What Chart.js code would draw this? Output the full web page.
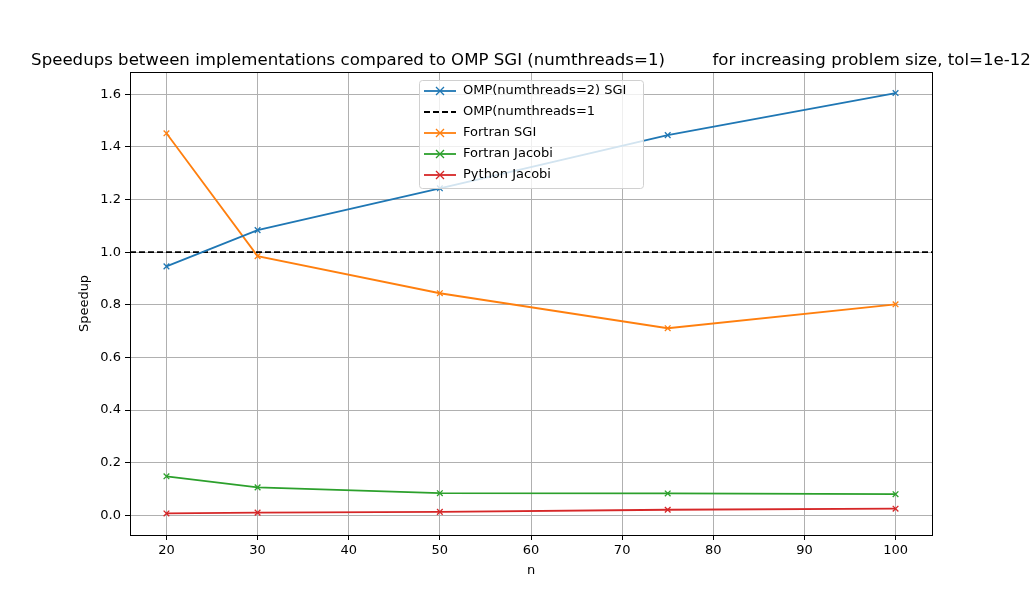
<!DOCTYPE html>
<html>
<head>
<meta charset="utf-8">
<script src="https://cdn.jsdelivr.net/npm/chart.js@4"></script>
<style>
  html, body { margin: 0; padding: 0; background: #fff; }
  #wrap { width: 1036px; height: 600px; }
</style>
</head>
<body>
<div id="wrap"><canvas id="c" width="1036" height="600"></canvas></div>
<script>
// problem sizes
const sizes = [20, 30, 50, 75, 100];

// speedups
const ompTwo = [0.946, 1.084, 1.243, 1.445, 1.605];
const fortranSgi = [1.452, 0.985, 0.844, 0.711, 0.802];
const fortranJacobi = [0.148, 0.106, 0.084, 0.083, 0.080];
const pythonJacobi = [0.007, 0.010, 0.013, 0.021, 0.025];
const baseline = 1.0;

const xTicks = [20, 30, 40, 50, 60, 70, 80, 90, 100];
const yTicks = [0, 0.2, 0.4, 0.6, 0.8, 1.0, 1.2, 1.4, 1.6];

const FONT = 'DejaVu Sans';

function pts(ys) {
  return sizes.map((x, i) => ({ x: x, y: ys[i] }));
}

function series(label, ys, color) {
  return {
    label: label,
    data: pts(ys),
    borderColor: color,
    backgroundColor: color,
    borderWidth: 1.8,
    pointStyle: 'crossRot',
    pointRadius: 4,
    pointBorderWidth: 1.3,
    pointHoverRadius: 4
  };
}

const datasets = [
  series('OMP(numthreads=2) SGI', ompTwo, '#1f77b4'),
  {
    label: 'OMP(numthreads=1',
    data: [{ x: 16, y: baseline }, { x: 104, y: baseline }],
    borderColor: '#000',
    borderWidth: 1.8,
    borderDash: [6, 3],
    pointRadius: 0
  },
  series('Fortran SGI', fortranSgi, '#ff7f0e'),
  series('Fortran Jacobi', fortranJacobi, '#2ca02c'),
  series('Python Jacobi', pythonJacobi, '#d62728')
];

// title, axis titles, frame and legend box, drawn like matplotlib
const decor = {
  id: 'decor',
  afterDraw(chart) {
    const ctx = chart.ctx;
    const a = chart.chartArea;
    ctx.save();
    ctx.strokeStyle = '#000';
    ctx.lineWidth = 1;
    ctx.strokeRect(a.left + 0.5, a.top + 0.5, a.right - a.left, a.bottom - a.top);

    ctx.fillStyle = '#000';
    ctx.font = '16.6px ' + FONT;
    ctx.textAlign = 'center';
    ctx.textBaseline = 'alphabetic';
    ctx.fillText('Speedups between implementations compared to OMP SGI (numthreads=1)         for increasing problem size, tol=1e-12',
      (a.left + a.right) / 2, 65);
    ctx.font = '13px ' + FONT;
    ctx.fillText('n', (a.left + a.right) / 2, 574);
    ctx.translate(88, (a.top + a.bottom) / 2);
    ctx.rotate(-Math.PI / 2);
    ctx.fillText('Speedup', 0, 0);
    ctx.restore();

    // legend
    ctx.save();
    const bx = 419, by = 80, bw = 224, bh = 108;
    ctx.fillStyle = 'rgba(255,255,255,0.8)';
    ctx.strokeStyle = '#d0d0d0';
    ctx.lineWidth = 1;
    ctx.beginPath();
    ctx.roundRect(bx + 0.5, by + 0.5, bw, bh, 3);
    ctx.fill();
    ctx.stroke();
    datasets.forEach((d, i) => {
      const y = by + 11 + i * 21;
      ctx.strokeStyle = d.borderColor;
      ctx.lineWidth = 1.8;
      ctx.setLineDash(d.borderDash || []);
      ctx.beginPath();
      ctx.moveTo(424, y);
      ctx.lineTo(456, y);
      ctx.stroke();
      ctx.setLineDash([]);
      if (d.pointRadius) {
        ctx.lineWidth = 1.3;
        ctx.beginPath();
        ctx.moveTo(436, y - 4); ctx.lineTo(444, y + 4);
        ctx.moveTo(444, y - 4); ctx.lineTo(436, y + 4);
        ctx.stroke();
      }
      ctx.fillStyle = '#000';
      ctx.font = '13px ' + FONT;
      ctx.textAlign = 'left';
      ctx.textBaseline = 'middle';
      ctx.fillText(d.label, 463, y);
    });
    ctx.restore();
  }
};

new Chart(document.getElementById('c').getContext('2d'), {
  type: 'line',
  data: { datasets: datasets },
  plugins: [decor],
  options: {
    responsive: false,
    animation: false,
    layout: { padding: { top: 72, right: 104, left: 0, bottom: 0 } },
    plugins: { legend: { display: false }, tooltip: { enabled: false } },
    scales: {
      x: {
        type: 'linear',
        min: 16,
        max: 104,
        afterBuildTicks(s) { s.ticks = xTicks.map(v => ({ value: v })); },
        afterFit(s) { s.height = 65; },
        grid: { color: '#b0b0b0', tickColor: '#000', tickLength: 5 },
        border: { color: '#000', width: 1 },
        ticks: { color: '#000', font: { family: FONT, size: 13 }, padding: 3 }
      },
      y: {
        min: -0.075,
        max: 1.685,
        afterBuildTicks(s) { s.ticks = yTicks.map(v => ({ value: v })); },
        afterFit(s) { s.width = 130; },
        grid: { color: '#b0b0b0', tickColor: '#000', tickLength: 5 },
        border: { color: '#000', width: 1 },
        ticks: {
          color: '#000',
          font: { family: FONT, size: 13 },
          padding: 4,
          callback: v => v.toFixed(1)
        }
      }
    }
  }
});
</script>
</body>
</html>
